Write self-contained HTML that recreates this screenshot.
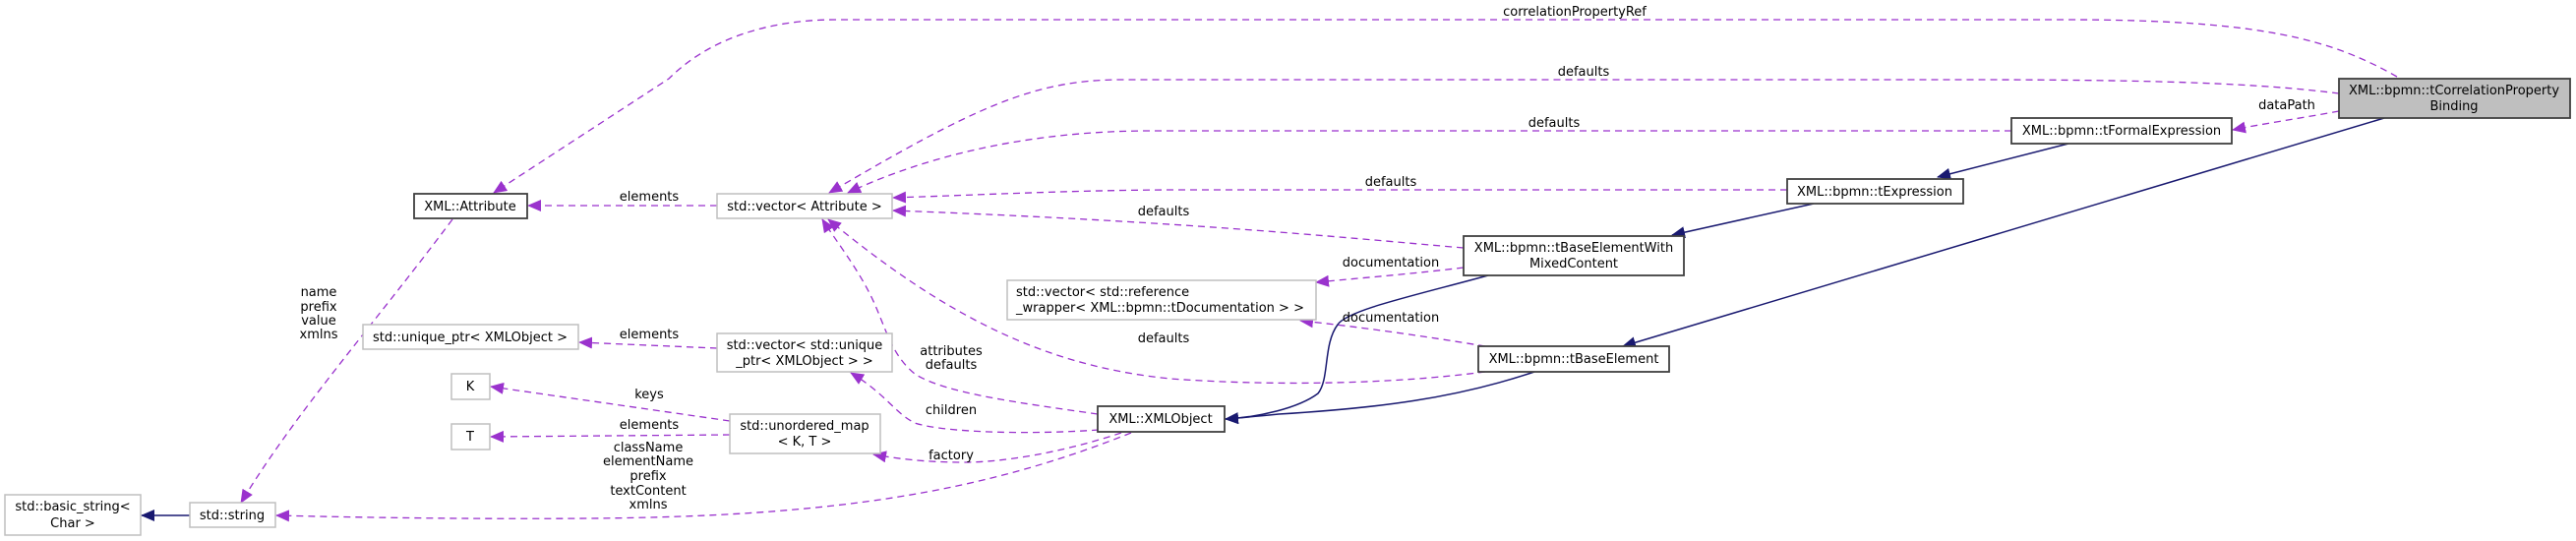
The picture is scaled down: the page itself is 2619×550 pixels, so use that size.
<!DOCTYPE html>
<html><head><meta charset="utf-8"><style>
html,body{margin:0;padding:0;background:#fff;}
svg{display:block;}
text{font-family:"DejaVu Sans","Liberation Sans",sans-serif;font-size:13px;fill:#000;}
.p{fill:none;stroke:#9a32cd;stroke-width:1.3;stroke-dasharray:7,5;}
.n{fill:none;stroke:#191970;stroke-width:1.5;}
.bx{fill:#fff;stroke:#bfbfbf;stroke-width:1.5;}
.bk{fill:#fff;stroke:#404040;stroke-width:1.8;}
</style></head><body>
<svg width="2619" height="550" viewBox="0 0 2619 550" xmlns="http://www.w3.org/2000/svg">
<defs>
<marker id="ap" markerWidth="14" markerHeight="12" refX="13" refY="6" orient="auto" markerUnits="userSpaceOnUse"><path d="M0,0 L14,6 L0,12 z" fill="#9a32cd"/></marker>
<marker id="an" markerWidth="14" markerHeight="12" refX="13" refY="6" orient="auto" markerUnits="userSpaceOnUse"><path d="M0,0 L14,6 L0,12 z" fill="#191970"/></marker>
</defs>

<!-- purple dashed edges -->
<path class="p" marker-end="url(#ap)" d="M2437,78 C2370,40 2300,20 2100,20 L850,20 C780,20 720,40 680,80 L502,196"/>
<path class="p" marker-end="url(#ap)" d="M2378,95 C2300,85 2200,81 2000,81 L1140,81 C1050,81 990,110 843,196"/>
<path class="p" marker-end="url(#ap)" d="M2045,133 L1170,133 C1070,133 960,150 862,196"/>
<path class="p" marker-end="url(#ap)" d="M1817,193 L1200,193 C1100,193 1000,198 908,201"/>
<path class="p" marker-end="url(#ap)" d="M1488,252 C1350,240 1200,225 908,214"/>
<path class="p" marker-end="url(#ap)" d="M1488,272 C1440,278 1390,282 1338,287"/>
<path class="p" marker-end="url(#ap)" d="M1510,352 C1450,342 1380,332 1322,326"/>
<path class="p" marker-end="url(#ap)" d="M1510,378 C1420,390 1300,393 1190,385 C1060,372 960,320 842,223"/>
<path class="p" marker-end="url(#ap)" d="M1116,421 C1040,410 960,400 930,380 C905,360 900,330 885,300 C870,270 850,245 836,223"/>
<path class="p" marker-end="url(#ap)" d="M1117,437 C1050,442 960,440 930,430 C910,420 900,400 865,379"/>
<path class="p" marker-end="url(#ap)" d="M1140,440 C1080,460 1020,470 980,470 C940,470 910,466 888,462"/>
<path class="p" marker-end="url(#ap)" d="M1150,440 C1000,500 850,525 600,527 C480,528 360,526 281,524"/>
<path class="p" marker-end="url(#ap)" d="M729,209 L537,209"/>
<path class="p" marker-end="url(#ap)" d="M729,354 L589,348"/>
<path class="p" marker-end="url(#ap)" d="M742,428 L499,393"/>
<path class="p" marker-end="url(#ap)" d="M742,442 L499,444"/>
<path class="p" marker-end="url(#ap)" d="M460,223 C380,330 300,420 245,511"/>
<path class="p" marker-end="url(#ap)" d="M2378,113 C2340,120 2300,126 2270,132"/>

<!-- navy solid edges -->
<path class="n" marker-end="url(#an)" d="M193,524 L144,524"/>
<path class="n" marker-end="url(#an)" d="M2103,146 L1970,180"/>
<path class="n" marker-end="url(#an)" d="M1844,207 L1700,239"/>
<path class="n" marker-end="url(#an)" d="M2424,120 L1650,352"/>
<path class="n" marker-end="url(#an)" d="M1513,280 C1440,300 1370,315 1360,330 C1345,350 1352,385 1340,400 C1320,415 1280,424 1246,426"/>
<path class="n" marker-end="url(#an)" d="M1560,378 C1480,405 1400,415 1300,421 C1280,423 1260,425 1246,426"/>

<!-- boxes -->
<rect class="bx" x="5" y="503" width="138" height="41"/>
<text x="74" y="519" text-anchor="middle">std::basic_string&lt;</text>
<text x="74" y="536" text-anchor="middle">Char &gt;</text>

<rect class="bx" x="193" y="511" width="87" height="25"/>
<text x="236" y="528" text-anchor="middle">std::string</text>

<rect class="bk" x="421" y="197" width="115" height="25"/>
<text x="478" y="214" text-anchor="middle">XML::Attribute</text>

<rect class="bx" x="369" y="330" width="219" height="25"/>
<text x="478" y="347" text-anchor="middle">std::unique_ptr&lt; XMLObject &gt;</text>

<rect class="bx" x="459" y="380" width="39" height="26"/>
<text x="478" y="397" text-anchor="middle">K</text>
<rect class="bx" x="459" y="431" width="39" height="26"/>
<text x="478" y="448" text-anchor="middle">T</text>

<rect class="bx" x="729" y="197" width="178" height="25"/>
<text x="818" y="214" text-anchor="middle">std::vector&lt; Attribute &gt;</text>

<rect class="bx" x="729" y="339" width="178" height="39"/>
<text x="818" y="355" text-anchor="middle">std::vector&lt; std::unique</text>
<text x="818" y="371" text-anchor="middle">_ptr&lt; XMLObject &gt; &gt;</text>

<rect class="bx" x="742" y="421" width="153" height="40"/>
<text x="818" y="437" text-anchor="middle">std::unordered_map</text>
<text x="818" y="453" text-anchor="middle">&lt; K, T &gt;</text>

<rect class="bx" x="1024" y="285" width="314" height="40"/>
<text x="1033" y="301">std::vector&lt; std::reference</text>
<text x="1033" y="317">_wrapper&lt; XML::bpmn::tDocumentation &gt; &gt;</text>

<rect class="bk" x="1116" y="413" width="129" height="26"/>
<text x="1180" y="430" text-anchor="middle">XML::XMLObject</text>

<rect class="bk" x="1488" y="240" width="224" height="40"/>
<text x="1600" y="256" text-anchor="middle">XML::bpmn::tBaseElementWith</text>
<text x="1600" y="272" text-anchor="middle">MixedContent</text>

<rect class="bk" x="1503" y="352" width="194" height="26"/>
<text x="1600" y="369" text-anchor="middle">XML::bpmn::tBaseElement</text>

<rect class="bk" x="1817" y="182" width="179" height="25"/>
<text x="1906" y="199" text-anchor="middle">XML::bpmn::tExpression</text>

<rect class="bk" x="2045" y="120" width="224" height="26"/>
<text x="2157" y="137" text-anchor="middle">XML::bpmn::tFormalExpression</text>

<rect x="2378" y="80" width="235" height="40" fill="#bfbfbf" stroke="#404040" stroke-width="1.8"/>
<text x="2495" y="96" text-anchor="middle">XML::bpmn::tCorrelationProperty</text>
<text x="2495" y="112" text-anchor="middle">Binding</text>

<!-- edge labels -->
<text x="1601" y="16" text-anchor="middle">correlationPropertyRef</text>
<text x="1610" y="77" text-anchor="middle">defaults</text>
<text x="1580" y="129" text-anchor="middle">defaults</text>
<text x="1414" y="189" text-anchor="middle">defaults</text>
<text x="1183" y="219" text-anchor="middle">defaults</text>
<text x="1414" y="271" text-anchor="middle">documentation</text>
<text x="1414" y="327" text-anchor="middle">documentation</text>
<text x="1183" y="348" text-anchor="middle">defaults</text>
<text x="967" y="361" text-anchor="middle">attributes</text>
<text x="967" y="375" text-anchor="middle">defaults</text>
<text x="967" y="421" text-anchor="middle">children</text>
<text x="967" y="467" text-anchor="middle">factory</text>
<text x="2325" y="111" text-anchor="middle">dataPath</text>
<text x="660" y="204" text-anchor="middle">elements</text>
<text x="660" y="344" text-anchor="middle">elements</text>
<text x="660" y="405" text-anchor="middle">keys</text>
<text x="660" y="436" text-anchor="middle">elements</text>
<text x="659" y="459" text-anchor="middle">className</text>
<text x="659" y="473" text-anchor="middle">elementName</text>
<text x="659" y="488" text-anchor="middle">prefix</text>
<text x="659" y="503" text-anchor="middle">textContent</text>
<text x="659" y="517" text-anchor="middle">xmlns</text>
<text x="324" y="301" text-anchor="middle">name</text>
<text x="324" y="316" text-anchor="middle">prefix</text>
<text x="324" y="330" text-anchor="middle">value</text>
<text x="324" y="344" text-anchor="middle">xmlns</text>
</svg>
</body></html>
